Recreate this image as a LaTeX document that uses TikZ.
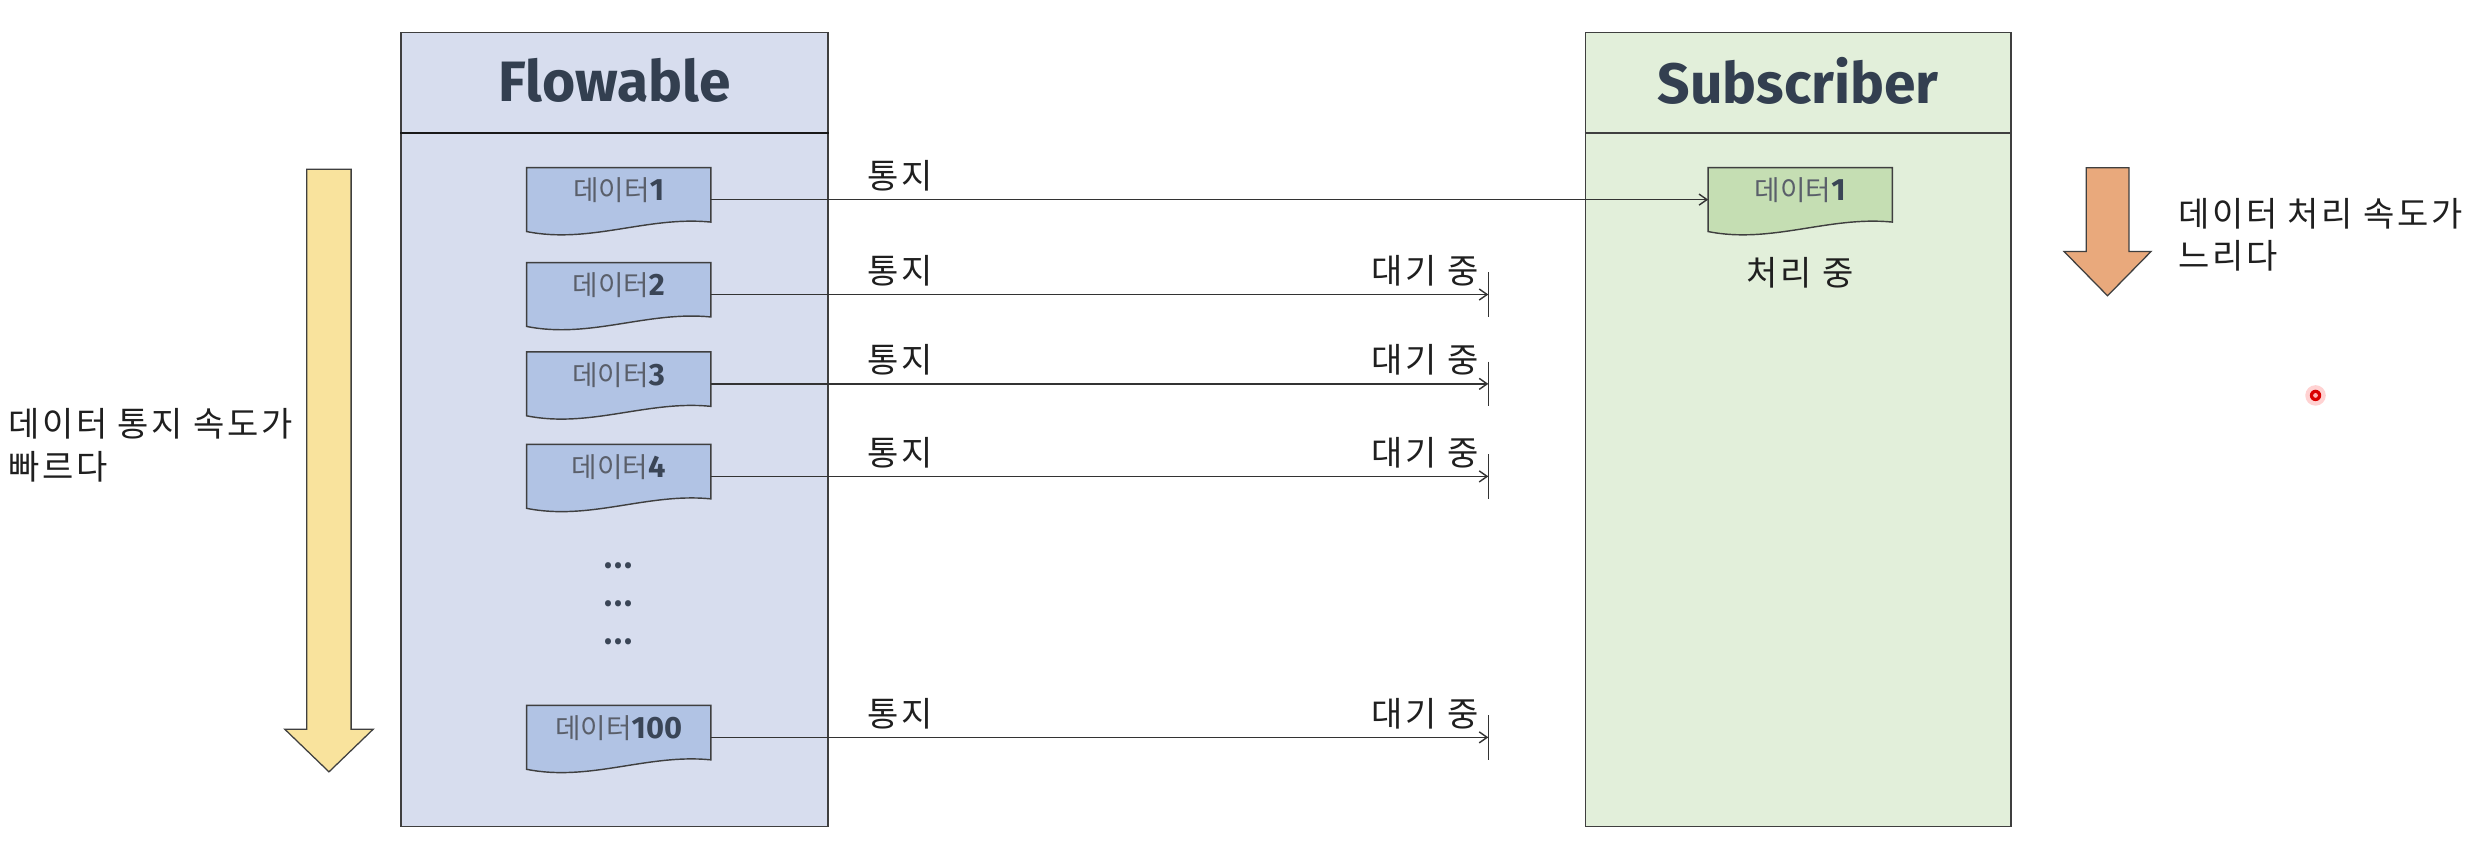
\documentclass[tikz,border=0pt]{standalone}
\usepackage{fontspec}
\setmainfont{Noto Sans CJK KR}
\newfontfamily\titlefont{Fira Sans}
\newfontfamily\spacedkr{Noto Sans CJK KR}[LetterSpace=8]
\usetikzlibrary{arrows.meta,calc}
\definecolor{flowfill}{HTML}{D7DDEE}
\definecolor{subfill}{HTML}{E2EFDA}
\definecolor{docblue}{HTML}{B1C3E4}
\definecolor{docgreen}{HTML}{C5DEB3}
\definecolor{yellowarrow}{HTML}{F9E39D}
\definecolor{orangearrow}{HTML}{E9A97C}
\definecolor{titlecol}{HTML}{333F50}
\definecolor{korgray}{HTML}{5A5F6A}
\definecolor{numcol}{HTML}{3A4556}
\definecolor{edgecol}{HTML}{3F3F3F}
\newcommand\docnode[5]{%
  \node[docbase, anchor=north west] (#1) at (#2,#3) {};
  \draw[docline, fill=#4] (#1.north west) -- (#1.north east) -- ($(#1.south east)+(0,-6)$)
    .. controls ($(#1.south east)+(-40,-10)$) and ($(#1.south west)+(40,8)$) .. (#1.south west) -- cycle;
  \node[doctext] (#1t) at ($(#1.north)+(0,14.5)$) {#5};
}
\newcommand\dlabel[1]{{\color{korgray}데이터}{\titlefont\bfseries\color{numcol}\fontsize{19.5}{20}\selectfont #1}}
\begin{document}
\begin{tikzpicture}[x=1pt,y=-1pt,
  mainbox/.style={draw=edgecol, line width=0.9pt, minimum width=270pt, minimum height=502pt, inner sep=0, anchor=north west},
  titletext/.style={font=\titlefont\bfseries\fontsize{36}{40}\selectfont, text=titlecol, inner sep=0},
  docbase/.style={minimum width=116pt, minimum height=40pt, inner sep=0},
  docline/.style={draw=edgecol, line width=0.9pt},
  doctext/.style={font=\fontsize{17.5}{19}\selectfont, inner sep=0},
  lbl/.style={font=\spacedkr\fontsize{21.5}{24}\selectfont, text=black!88, inner sep=0},
  conn/.style={draw=black!80, line width=0.9pt, -{Straight Barb[length=5pt,width=7pt]}},
  bar/.style={draw=black!80, line width=0.9pt},
  bigarrow/.style={draw=edgecol, line width=0.8pt},
  dots/.style={font=\bfseries\fontsize{18}{20}\selectfont, text=numcol, inner sep=0}
]
\useasboundingbox (0,0) rectangle (1568,542);
\fill[white] (0,0) rectangle (1568,542);

% main boxes
\node[mainbox, fill=flowfill] (flow) at (253,20) {};
\draw[draw=black!90, line width=1.6pt] ($(flow.north west)+(0,64)$) -- ($(flow.north east)+(0,64)$);
\node[titletext] (flowtitle) at ($(flow.north)+(0,31)$) {Flowable};

\node[mainbox, fill=subfill, minimum width=269pt] (sub) at (1002,20) {};
\draw[draw=edgecol, line width=1pt] ($(sub.north west)+(0,64)$) -- ($(sub.north east)+(0,64)$);
\node[titletext] (subtitle) at ($(sub.north)+(0,31)$) {Subscriber};

% data documents
\docnode{d1}{333}{106}{docblue}{\dlabel{1}}
\docnode{d2}{333}{166}{docblue}{\dlabel{2}}
\docnode{d3}{333}{222.5}{docblue}{\dlabel{3}}
\docnode{d4}{333}{281}{docblue}{\dlabel{4}}
\docnode{d100}{333}{446}{docblue}{\dlabel{100}}
\docnode{s1}{1080}{106}{docgreen}{\dlabel{1}}

\node[dots] (dotsa) at (391,358) {...};
\node[dots] (dotsb) at (391,382) {...};
\node[dots] (dotsc) at (391,406) {...};

\node[lbl] (proc) at ($(s1.south)+(0,26)$) {처리 중};

% coordinates for label columns and bars
\coordinate (lx) at (548,0);
\coordinate (wx) at (935,0);
\coordinate (bx) at (941,0);

% connector 1
\draw[conn] (d1.east) -- (s1.west);
\node[lbl, anchor=west] (n1) at ($(d1.east -| lx)+(0,-15)$) {통지};

% waiting connectors
\foreach \d in {d2,d3,d4,d100}{
  \coordinate (w\d) at (\d.east -| bx);
  \draw[conn] (\d.east) -- (w\d);
  \draw[bar] ($(w\d)+(0,-14)$) -- ($(w\d)+(0,14)$);
  \node[lbl, anchor=west] (n\d) at ($(\d.east -| lx)+(0,-15)$) {통지};
  \node[lbl, anchor=east] (wait\d) at ($(\d.east -| wx)+(0,-15)$) {대기 중};
}

% big arrows
\draw[bigarrow, fill=yellowarrow] (194,107) -- (222,107) -- (222,461) -- (236,461) -- (208,488) -- (180,461) -- (194,461) -- cycle;
\node[lbl, anchor=west, align=left, font=\spacedkr\fontsize{21.5}{27}\selectfont] (fasttext) at (5,281.5) {데이터 통지 속도가\\빠르다};

\draw[bigarrow, fill=orangearrow] (1319,106) -- (1346,106) -- (1346,159) -- (1360,159) -- (1332.5,187) -- (1305,159) -- (1319,159) -- cycle;
\node[lbl, anchor=west, align=left, font=\spacedkr\fontsize{21.5}{27}\selectfont] (slowtext) at (1377,148.5) {데이터 처리 속도가\\느리다};

% pointer dot
\fill[red!25, opacity=0.7] (1464,250) circle (6.5);
\fill[red!85!black] (1464,250) circle (3.6);
\fill[white!70!red] (1464,250) circle (1.5);
\end{tikzpicture}
\end{document}
